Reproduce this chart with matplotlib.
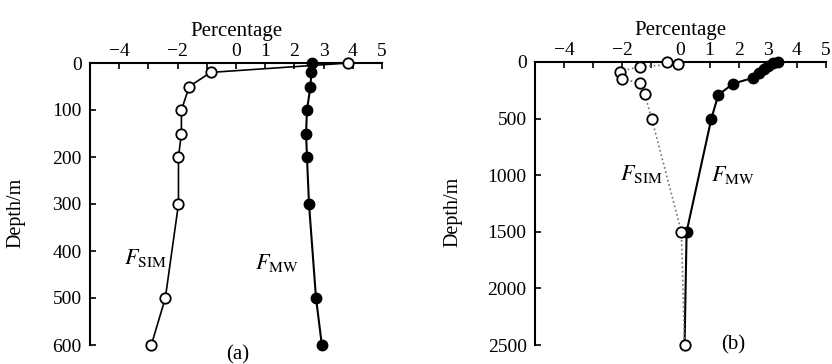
import numpy as np
import matplotlib
matplotlib.use('Agg')
import matplotlib.pyplot as plt

plt.rcParams['font.family'] = ['Liberation Serif', 'DejaVu Serif']
plt.rcParams['mathtext.fontset'] = 'stix'

##########################################################################
###   data (percentage vs depth)
##########################################################################
# panel (a)
depthA = [0, 20, 50, 100, 150, 200, 300, 500, 600]
simA = [3.85, -0.87, -1.6, -1.87, -1.87, -1.97, -1.97, -2.42, -2.9]
mwA = [2.6, 2.58, 2.55, 2.43, 2.4, 2.43, 2.5, 2.74, 2.94]

# panel (b)
depthSimB = [0, 20, 40, 85, 150, 185, 285, 500, 1500, 2500]
simB = [-0.48, -0.07, -1.4, -2.09, -2.02, -1.4, -1.23, -0.99, 0.03, 0.14]
depthMwB = [0, 10, 35, 60, 100, 140, 190, 290, 500, 1500, 2500]
mwB = [3.36, 3.18, 3.0, 2.87, 2.7, 2.5, 1.82, 1.3, 1.06, 0.21, 0.14]

xticks = [-4, -3, -2, -1, 0, 1, 2, 3, 4, 5]
xticklabels = ['\u22124', '', '\u22122', '', '0', '1', '2', '3', '4', '5']

fig = plt.figure(figsize=(8.32, 3.64), dpi=100)
axA = fig.add_axes([90/832, 1-345/364, 292/832, 282/364])
axB = fig.add_axes([535/832, 1-345/364, 291/832, 283/364])

def styleAx(ax, ymax, yticks, ylabx):
    ax.set_xlim(-5, 5)
    ax.set_ylim(ymax, 0)
    ax.spines['right'].set_visible(False)
    ax.spines['bottom'].set_visible(False)
    ax.spines['top'].set_linewidth(1.5)
    ax.spines['left'].set_linewidth(1.5)
    ax.xaxis.tick_top()
    ax.xaxis.set_label_position('top')
    ax.set_xticks(xticks)
    ax.set_xticklabels(xticklabels)
    ax.set_yticks(yticks)
    ax.tick_params(axis='both', direction='in', length=4, width=1.2,
                   labelsize=14)
    ax.tick_params(axis='x', pad=2)
    ax.tick_params(axis='y', pad=6)
    ax.set_xlabel('Percentage', fontsize=15, labelpad=5)
    ax.set_ylabel('Depth/m', fontsize=14.5)
    ax.yaxis.set_label_coords(ylabx, 0.47)

styleAx(axA, 600, [0, 100, 200, 300, 400, 500, 600], -0.222)
styleAx(axB, 2500, [0, 500, 1000, 1500, 2000, 2500], -0.25)

# panel (a)
axA.plot(simA, depthA, '-', color='k', lw=1.2, marker='o', ms=7.5,
         mfc='white', mec='k', mew=1.3, clip_on=False, zorder=3)
axA.plot(mwA, depthA, '-', color='k', lw=1.5, marker='o', ms=7.5,
         mfc='k', mec='k', clip_on=False, zorder=4)
axA.text(-3.1, 415, r'$F_{\mathrm{SIM}}$', fontsize=16, ha='center', va='center')
axA.text(1.4, 425, r'$F_{\mathrm{MW}}$', fontsize=16, ha='center', va='center')
axA.text(0.05, 620, '(a)', fontsize=15, ha='center', va='center')

# panel (b)
axB.plot(simB, depthSimB, ':', color='0.45', lw=1.2, marker='o', ms=7.5,
         mfc='white', mec='k', mew=1.3, clip_on=False, zorder=3)
axB.plot(mwB, depthMwB, '-', color='k', lw=1.5, marker='o', ms=7.5,
         mfc='k', mec='k', clip_on=False, zorder=2, markevery=list(range(10)))
axB.text(-1.35, 985, r'$F_{\mathrm{SIM}}$', fontsize=16, ha='center', va='center')
axB.text(1.8, 995, r'$F_{\mathrm{MW}}$', fontsize=16, ha='center', va='center')
axB.text(1.8, 2500, '(b)', fontsize=15, ha='center', va='center')

plt.savefig('out.png', dpi=100)
